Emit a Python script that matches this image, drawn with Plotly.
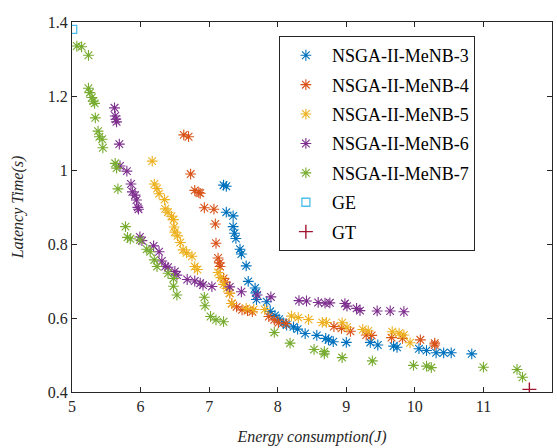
import plotly.graph_objects as go

# MeNB-3 (blue)
e3 = [7.21, 7.25, 7.25, 7.35, 7.35, 7.37, 7.39, 7.45, 7.47, 7.54, 7.57, 7.67, 7.68, 7.69, 7.84, 7.89,
      7.96, 8.02, 8.08, 8.13, 8.23, 8.29, 8.40, 8.57, 8.70, 8.74, 8.81, 9.00, 9.35, 9.46, 9.69, 9.74,
      10.06, 10.17, 10.31, 10.42, 10.53, 10.83]
l3 = [0.959, 0.956, 0.886, 0.876, 0.847, 0.829, 0.815, 0.786, 0.773, 0.741, 0.699, 0.681, 0.668, 0.650,
      0.644, 0.618, 0.607, 0.597, 0.587, 0.581, 0.576, 0.570, 0.558, 0.553, 0.545, 0.541, 0.536, 0.534,
      0.534, 0.527, 0.524, 0.521, 0.517, 0.512, 0.506, 0.506, 0.506, 0.503]

# MeNB-4 (orange)
e4 = [6.63, 6.70, 6.73, 6.79, 6.85, 6.87, 6.93, 7.07, 7.09, 7.10, 7.13, 7.15, 7.16, 7.21, 7.24, 7.30,
      7.33, 7.40, 7.48, 7.56, 7.63, 7.87, 7.95, 8.01, 8.12, 8.82, 8.93, 9.06, 9.29, 9.37, 9.66, 9.82,
      10.08, 10.29, 10.29]
l4 = [1.095, 1.090, 0.989, 0.945, 0.939, 0.937, 0.898, 0.894, 0.854, 0.802, 0.762, 0.749, 0.739, 0.707,
      0.697, 0.667, 0.639, 0.630, 0.622, 0.620, 0.617, 0.604, 0.595, 0.587, 0.585, 0.577, 0.572, 0.564,
      0.554, 0.553, 0.547, 0.545, 0.541, 0.532, 0.527]

# MeNB-5 (yellow)
e5 = [6.17, 6.20, 6.24, 6.27, 6.35, 6.36, 6.40, 6.45, 6.48, 6.49, 6.50, 6.54, 6.58, 6.62, 6.67, 6.75,
      6.79, 6.83, 7.13, 7.17, 7.21, 7.26, 7.30, 7.33, 7.54, 7.65, 7.81, 8.20, 8.30, 8.45, 8.65, 8.71,
      8.94, 9.01, 9.24, 9.32, 9.67, 9.77, 9.84, 9.93]
l5 = [1.024, 0.962, 0.950, 0.936, 0.920, 0.895, 0.886, 0.875, 0.866, 0.846, 0.832, 0.822, 0.804, 0.784,
      0.776, 0.767, 0.739, 0.731, 0.723, 0.709, 0.691, 0.680, 0.667, 0.639, 0.626, 0.623, 0.623, 0.605,
      0.601, 0.596, 0.588, 0.588, 0.587, 0.575, 0.569, 0.565, 0.563, 0.559, 0.554, 0.533]

# MeNB-6 (purple)
e6 = [5.62, 5.63, 5.64, 5.65, 5.69, 5.70, 5.80, 5.86, 5.88, 5.92, 5.94, 5.96, 5.97, 5.99, 6.02, 6.19,
      6.27, 6.31, 6.36, 6.40, 6.50, 6.53, 6.68, 6.79, 6.87, 6.91, 7.04, 7.30, 7.47, 7.70, 7.90, 8.31,
      8.42, 8.59, 8.69, 8.76, 8.98, 9.01, 9.15, 9.20, 9.45, 9.64, 9.84]
l6 = [1.168, 1.146, 1.137, 1.130, 1.070, 1.011, 0.997, 0.962, 0.941, 0.932, 0.919, 0.899, 0.894, 0.819,
      0.809, 0.795, 0.779, 0.754, 0.739, 0.737, 0.726, 0.716, 0.704, 0.700, 0.694, 0.689, 0.685, 0.684,
      0.671, 0.662, 0.657, 0.647, 0.646, 0.642, 0.640, 0.641, 0.639, 0.632, 0.626, 0.620, 0.619, 0.619,
      0.617]

# MeNB-7 (green)
e7 = [5.07, 5.14, 5.24, 5.24, 5.26, 5.29, 5.31, 5.33, 5.34, 5.38, 5.40, 5.44, 5.45, 5.63, 5.65, 5.67,
      5.78, 5.81, 5.85, 5.99, 6.09, 6.14, 6.20, 6.24, 6.40, 6.48, 6.48, 6.53, 6.93, 6.94, 7.02, 7.10,
      7.21, 7.95, 8.18, 8.53, 8.68, 8.68, 8.94, 9.38, 9.98, 10.17, 10.24, 11.00, 11.49, 11.57]
l7 = [1.335, 1.333, 1.310, 1.221, 1.209, 1.196, 1.186, 1.180, 1.141, 1.105, 1.090, 1.083, 1.060, 1.018,
      1.005, 0.949, 0.847, 0.818, 0.814, 0.811, 0.786, 0.779, 0.757, 0.739, 0.721, 0.707, 0.686, 0.662,
      0.656, 0.633, 0.604, 0.595, 0.590, 0.561, 0.532, 0.515, 0.509, 0.503, 0.493, 0.484, 0.472, 0.470,
      0.466, 0.467, 0.461, 0.440]

ge_e = [5.01]
ge_l = [1.380]
gt_e = [11.67]
gt_l = [0.407]

names = ["NSGA-II-MeNB-3", "NSGA-II-MeNB-4", "NSGA-II-MeNB-5", "NSGA-II-MeNB-6", "NSGA-II-MeNB-7"]
colors = ["#0072BD", "#D95319", "#EDB120", "#7E2F8E", "#77AC30"]
series = [(e3, l3), (e4, l4), (e5, l5), (e6, l6), (e7, l7)]

SERIF = "Liberation Serif"

fig = go.Figure()
for i, ((xs, ys), n, c) in enumerate(zip(series, names, colors)):
    fig.add_trace(go.Scatter(
        x=xs, y=ys, mode="markers", name=n, legendgroup=str(i),
        marker=dict(symbol="asterisk-open", size=9, color=c, line=dict(color=c, width=1.1)),
    ))
fig.add_trace(go.Scatter(
    x=ge_e, y=ge_l, mode="markers", name="GE", legendgroup="ge",
    marker=dict(symbol="square-open", size=8, color="#4DBEEE", line=dict(color="#4DBEEE", width=1.3)),
))
fig.add_trace(go.Scatter(
    x=gt_e, y=gt_l, mode="markers", name="GT", legendgroup="gt",
    marker=dict(symbol="cross-thin-open", size=10, color="#A2142F", line=dict(color="#A2142F", width=1.4)),
))

axis_common = dict(
    showline=True, linecolor="#262626", linewidth=1, mirror="ticks",
    ticks="inside", ticklen=5, tickcolor="#262626", showgrid=False, zeroline=False,
    tickfont=dict(family=SERIF, size=16, color="#262626"),
)
fig.update_xaxes(range=[5, 12], dtick=1, tick0=5,
                 title=dict(text="<i>Energy consumption(J)</i>",
                            font=dict(family=SERIF, size=16, color="#262626"), standoff=16),
                 **axis_common)
fig.update_yaxes(range=[0.4, 1.4], dtick=0.2, tick0=0.4,
                 title=dict(text="<i>Latency Time(s)</i>",
                            font=dict(family=SERIF, size=16, color="#262626"), standoff=20),
                 **axis_common)

fig.update_layout(
    width=557, height=448,
    margin=dict(l=72, r=5, t=22, b=56),
    paper_bgcolor="white", plot_bgcolor="white",
    font=dict(family=SERIF, color="#262626"),
    legend=dict(x=0.431, y=0.962, xanchor="left", yanchor="top",
                bgcolor="white", bordercolor="#262626", borderwidth=1,
                font=dict(family=SERIF, size=18, color="#000000"),
                itemwidth=42,
                traceorder="grouped", tracegroupgap=3),
    showlegend=True,
)

fig.write_html("out.html")
